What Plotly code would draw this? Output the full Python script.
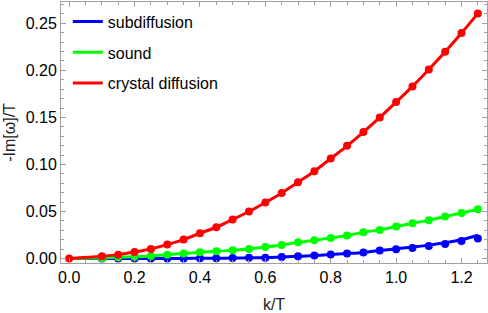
import plotly.graph_objects as go

k_red = [0.0, 0.1, 0.15, 0.2, 0.25, 0.3, 0.35, 0.4, 0.45, 0.5, 0.55, 0.6, 0.65,
         0.7, 0.75, 0.8, 0.85, 0.9, 0.95, 1.0, 1.05, 1.1, 1.15, 1.2, 1.25]
crystal = [0.0, 0.0024, 0.0042, 0.0070, 0.0102, 0.0149, 0.0202, 0.0269, 0.0333,
           0.0415, 0.0500, 0.0596, 0.0698, 0.0812, 0.0929, 0.1064, 0.1198, 0.1344,
           0.1500, 0.1663, 0.1830, 0.2010, 0.2198, 0.2397, 0.2606]

k_pts = [0.1, 0.15, 0.2, 0.25, 0.3, 0.35, 0.4, 0.45, 0.5, 0.55, 0.6, 0.65,
         0.7, 0.75, 0.8, 0.85, 0.9, 0.95, 1.0, 1.05, 1.1, 1.15, 1.2, 1.25]
sound = [0.0007, 0.0013, 0.0020, 0.0028, 0.0042, 0.0053, 0.0067, 0.0078, 0.0088,
         0.0102, 0.0123, 0.0145, 0.0173, 0.0195, 0.0220, 0.0245, 0.0280, 0.0304,
         0.0340, 0.0376, 0.0407, 0.0447, 0.0485, 0.0524]
subdiff = [0.0, 0.0, 0.0001, 0.0001, 0.0002, 0.0002, 0.0003, 0.0004, 0.0005,
           0.0008, 0.0010, 0.0017, 0.0024, 0.0032, 0.0043, 0.0053, 0.0064, 0.0085,
           0.0099, 0.0113, 0.0134, 0.0156, 0.0187, 0.0213]

k_line = [0.0] + k_pts
sound_line = [0.0] + sound
subdiff_line = [0.0, 0.0, 0.0, 0.0001, 0.0001, 0.0002, 0.0002, 0.0003, 0.0004, 0.0005,
                0.0008, 0.0010, 0.0017, 0.0024, 0.0032, 0.0043, 0.0053, 0.0065, 0.0086,
                0.0104, 0.0122, 0.0143, 0.0168, 0.0200, 0.0248]

BLUE, GREEN, RED = "rgb(0,0,255)", "rgb(0,255,0)", "rgb(255,0,0)"
names = ["subdiffusion", "sound", "crystal diffusion"]
FONT = "Liberation Sans, Arial"

fig = go.Figure()
for i, (x, y, c) in enumerate([(k_line, subdiff_line, BLUE),
                               (k_line, sound_line, GREEN),
                               (k_red, crystal, RED)]):
    fig.add_trace(go.Scatter(x=x, y=y, mode="lines", name=names[i],
                             line=dict(color=c, width=3), legendgroup=str(i),
                             line_shape="spline"))
for x, y, c in [(k_pts, subdiff, BLUE), (k_pts, sound, GREEN), (k_red, crystal, RED)]:
    fig.add_trace(go.Scatter(x=x, y=y, mode="markers", showlegend=False,
                             marker=dict(color=c, size=8)))

axis_common = dict(showline=True, linecolor="#a0a0a0", linewidth=1, mirror="allticks",
                   ticks="inside", ticklen=5, tickcolor="#a0a0a0", showgrid=False,
                   zeroline=False, tickfont=dict(family=FONT, size=16, color="black"))

fig.update_xaxes(range=[-0.025, 1.278], tick0=0, dtick=0.2, tickformat=".1f",
                 minor=dict(ticks="inside", dtick=0.05, ticklen=3, tickcolor="#a0a0a0"),
                 title=dict(text="k/T", font=dict(family=FONT, size=16, color="#222"), standoff=15),
                 **axis_common)
fig.update_yaxes(range=[-0.0047, 0.2727], tick0=0, dtick=0.05, tickformat=".2f",
                 minor=dict(ticks="inside", dtick=0.01, ticklen=3, tickcolor="#a0a0a0"),
                 title=dict(text="-Im[ω]/T", font=dict(family=FONT, size=16, color="#222"), standoff=6),
                 **axis_common)

fig.update_layout(
    width=488, height=313,
    margin=dict(l=61, r=1, t=2, b=50, autoexpand=False),
    plot_bgcolor="white", paper_bgcolor="white",
    legend=dict(x=0.016, y=0.99, xanchor="left", yanchor="top", bgcolor="rgba(0,0,0,0)",
                tracegroupgap=7, font=dict(family=FONT, size=16, color="black")),
)

fig.write_html("out.html", config={"displayModeBar": False},
               post_script="document.body.style.margin='0';document.body.style.padding='0';")
